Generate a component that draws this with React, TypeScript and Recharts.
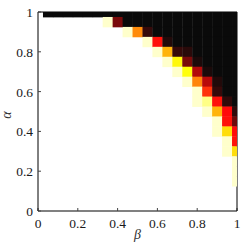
import React from 'react';
import { ScatterChart, Scatter, XAxis, YAxis, Label } from 'recharts';

// grid columns (beta) and rows (alpha), step 0.05
const betaValues = [
  0, 0.05, 0.1, 0.15, 0.2, 0.25, 0.3, 0.35, 0.4, 0.45, 0.5,
  0.55, 0.6, 0.65, 0.7, 0.75, 0.8, 0.85, 0.9, 0.95, 1,
];
const alphaValues = [1, 0.95, 0.9, 0.85, 0.8, 0.75, 0.7, 0.65, 0.6, 0.55, 0.5, 0.45, 0.4, 0.35, 0.3, 0.25, 0.2, 0.15];

// intensity 0 (white) .. 1 (black), one row per alpha value
const heatRows = [
  [0, 1, 1, 1, 1, 1, 1, 1, 1, 1, 1, 1, 1, 1, 1, 1, 1, 1, 1, 1, 1],
  [0, 0, 0, 0, 0, 0, 0, 0.05, 0.82, 1, 1, 1, 1, 1, 1, 1, 1, 1, 1, 1, 1],
  [0, 0, 0, 0, 0, 0, 0, 0, 0, 0.05, 0.42, 0.92, 1, 1, 1, 1, 1, 1, 1, 1, 1],
  [0, 0, 0, 0, 0, 0, 0, 0, 0, 0, 0, 0.05, 0.6, 0.95, 1, 1, 1, 1, 1, 1, 1],
  [0, 0, 0, 0, 0, 0, 0, 0, 0, 0, 0, 0, 0.05, 0.36, 0.92, 0.94, 1, 1, 1, 1, 1],
  [0, 0, 0, 0, 0, 0, 0, 0, 0, 0, 0, 0, 0, 0.05, 0.26, 0.82, 0.96, 1, 1, 1, 1],
  [0, 0, 0, 0, 0, 0, 0, 0, 0, 0, 0, 0, 0, 0, 0.05, 0.24, 0.74, 0.96, 1, 1, 1],
  [0, 0, 0, 0, 0, 0, 0, 0, 0, 0, 0, 0, 0, 0, 0, 0.05, 0.43, 0.73, 0.95, 1, 1],
  [0, 0, 0, 0, 0, 0, 0, 0, 0, 0, 0, 0, 0, 0, 0, 0, 0.05, 0.55, 0.92, 1, 1],
  [0, 0, 0, 0, 0, 0, 0, 0, 0, 0, 0, 0, 0, 0, 0, 0, 0.05, 0.12, 0.6, 0.93, 1],
  [0, 0, 0, 0, 0, 0, 0, 0, 0, 0, 0, 0, 0, 0, 0, 0, 0, 0.05, 0.36, 0.61, 0.93],
  [0, 0, 0, 0, 0, 0, 0, 0, 0, 0, 0, 0, 0, 0, 0, 0, 0, 0, 0.05, 0.6, 0.84],
  [0, 0, 0, 0, 0, 0, 0, 0, 0, 0, 0, 0, 0, 0, 0, 0, 0, 0, 0.05, 0.3, 0.62],
  [0, 0, 0, 0, 0, 0, 0, 0, 0, 0, 0, 0, 0, 0, 0, 0, 0, 0, 0, 0.05, 0.6],
  [0, 0, 0, 0, 0, 0, 0, 0, 0, 0, 0, 0, 0, 0, 0, 0, 0, 0, 0, 0.05, 0.3],
  [0, 0, 0, 0, 0, 0, 0, 0, 0, 0, 0, 0, 0, 0, 0, 0, 0, 0, 0, 0, 0.05],
  [0, 0, 0, 0, 0, 0, 0, 0, 0, 0, 0, 0, 0, 0, 0, 0, 0, 0, 0, 0, 0.05],
  [0, 0, 0, 0, 0, 0, 0, 0, 0, 0, 0, 0, 0, 0, 0, 0, 0, 0, 0, 0, 0.05],
];

const axisTicks = [0, 0.2, 0.4, 0.6, 0.8, 1];
const innerTicks = [0.2, 0.4, 0.6, 0.8];

const W = 247;
const H = 249;
const LEFT = 38;
const TOP = 12;
const RIGHT = 10;
const BOTTOM = 38;
const PW = W - LEFT - RIGHT;
const PH = H - TOP - BOTTOM;
const STEP = 0.05;

const FONT = "'Liberation Serif', 'Times New Roman', serif";

const clamp = (x: number) => Math.max(0, Math.min(1, x));

// reversed "hot" colormap
const hotR = (v: number) => {
  const x = 1 - v;
  const r = clamp(x / 0.375);
  const g = clamp((x - 0.375) / 0.375);
  const b = clamp((x - 0.75) / 0.25);
  const hex = (c: number) => Math.max(10, Math.round(c * 255)).toString(16).padStart(2, '0');
  return `#${hex(r)}${hex(g)}${hex(b)}`;
};

const cells = heatRows
  .flatMap((row, i) => row.map((v, j) => ({ beta: betaValues[j], alpha: alphaValues[i], v })))
  .filter((d) => d.v > 0);

const HeatCell = (props: any) => {
  const { cx, cy, payload } = props;
  const w = PW * STEP;
  const h = PH * STEP;
  const x0 = Math.max(LEFT, cx - w / 2);
  const x1 = Math.min(LEFT + PW, cx + w / 2 + 0.4);
  const y0 = Math.max(TOP, cy - h / 2);
  const y1 = Math.min(TOP + PH, cy + h / 2 + 0.4);
  return <rect x={x0} y={y0} width={x1 - x0} height={y1 - y0} fill={hotR(payload.v)} />;
};

const textStyle = { fontFamily: FONT, fontSize: '13.5px' };

const BottomTick = ({ x, y, payload }: any) => (
  <text x={x} y={y + 10} textAnchor="middle" fill="#1a1a1a" style={textStyle}>
    {String(payload.value)}
  </text>
);

const LeftTick = ({ x, y, payload }: any) => (
  <text x={x} y={y + 5} textAnchor="end" fill="#1a1a1a" style={textStyle}>
    {String(payload.value)}
  </text>
);

export default function App() {
  return (
    <div style={{ position: 'absolute', left: 0, top: 0 }}>
      <ScatterChart width={W} height={H} margin={{ top: 0, right: 0, bottom: 0, left: 0 }}>
        <XAxis
          xAxisId="b"
          dataKey="beta"
          type="number"
          domain={[0, 1]}
          ticks={axisTicks}
          interval={0}
          height={BOTTOM}
          tickSize={-3}
          tickMargin={10}
          axisLine={{ stroke: '#808080', strokeWidth: 2 }}
          tickLine={{ stroke: '#444' }}
          tick={<BottomTick />}
        >
          <Label
            content={({ viewBox }: any) => (
              <text
                x={viewBox.x + viewBox.width / 2}
                y={viewBox.y + 27.5}
                textAnchor="middle"
                style={{ fontFamily: FONT, fontStyle: 'italic', fontSize: '14px' }}
                fill="#333"
              >
                β
              </text>
            )}
          />
        </XAxis>
        <XAxis
          xAxisId="t"
          orientation="top"
          type="number"
          domain={[0, 1]}
          height={TOP}
          tick={false}
          tickLine={false}
          axisLine={{ stroke: '#000' }}
        />
        <YAxis
          yAxisId="l"
          dataKey="alpha"
          type="number"
          domain={[0, 1]}
          ticks={axisTicks}
          interval={0}
          width={LEFT}
          tickSize={-3}
          tickMargin={8}
          axisLine={{ stroke: '#000' }}
          tickLine={{ stroke: '#444' }}
          tick={<LeftTick />}
        >
          <Label
            content={() => (
              <text
                x={11}
                y={115}
                transform="rotate(-90 11 115)"
                textAnchor="middle"
                style={{ fontFamily: FONT, fontStyle: 'italic', fontSize: '14px' }}
                fill="#333"
              >
                α
              </text>
            )}
          />
        </YAxis>
        <YAxis
          yAxisId="r"
          orientation="right"
          type="number"
          domain={[0, 1]}
          ticks={innerTicks}
          width={RIGHT}
          tickSize={-3}
          tick={false}
          axisLine={{ stroke: '#000' }}
          tickLine={{ stroke: '#555' }}
        />
        <Scatter
          xAxisId="b"
          yAxisId="l"
          data={cells}
          isAnimationActive={false}
          shape={(p: any) => <HeatCell {...p} />}
        />
      </ScatterChart>
    </div>
  );
}
